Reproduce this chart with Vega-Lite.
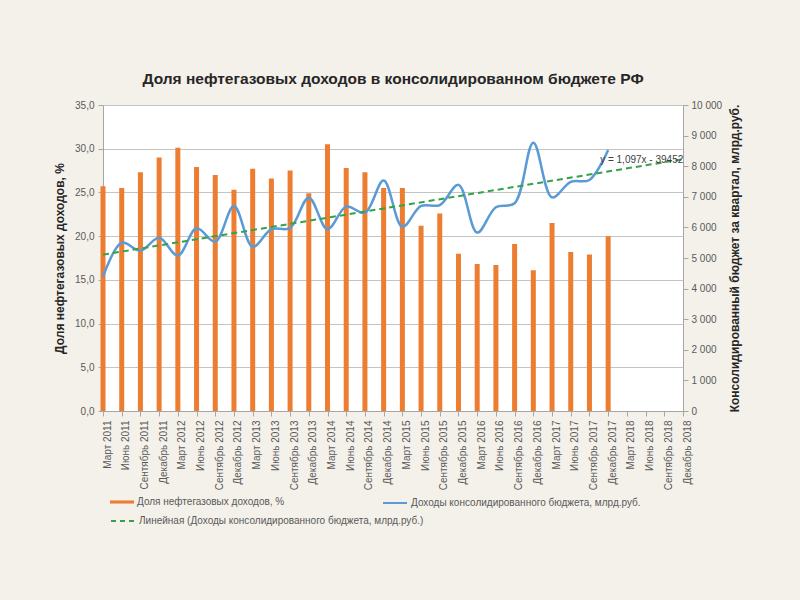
{
  "$schema": "https://vega.github.io/schema/vega-lite/v6.json",
  "width": 580,
  "height": 306,
  "autosize": {"type": "none"},
  "padding": {"left": 103, "top": 105, "right": 117, "bottom": 189},
  "background": "#f4f1ea",
  "title": {
    "text": "Доля нефтегазовых доходов  в консолидированном бюджете РФ",
    "font": "Liberation Sans Narrow, Liberation Sans, sans-serif",
    "fontSize": 15.5,
    "fontWeight": "bold",
    "color": "#262626",
    "anchor": "middle",
    "offset": 13
  },
  "data": {
    "values": [
      {"period": "Март 2011", "share": 25.7, "budget": 4390, "trend": 5110},
      {"period": "Июнь 2011", "share": 25.5, "budget": 5500},
      {"period": "Сентябрь 2011", "share": 27.3, "budget": 5240},
      {"period": "Декабрь 2011", "share": 29.0, "budget": 5665},
      {"period": "Март 2012", "share": 30.1, "budget": 5075},
      {"period": "Июнь 2012", "share": 27.9, "budget": 5970},
      {"period": "Сентябрь 2012", "share": 27.0, "budget": 5535},
      {"period": "Декабрь 2012", "share": 25.3, "budget": 6700},
      {"period": "Март 2013", "share": 27.7, "budget": 5370},
      {"period": "Июнь 2013", "share": 26.6, "budget": 5940},
      {"period": "Сентябрь 2013", "share": 27.5, "budget": 5980},
      {"period": "Декабрь 2013", "share": 24.9, "budget": 6970},
      {"period": "Март 2014", "share": 30.5, "budget": 5940},
      {"period": "Июнь 2014", "share": 27.8, "budget": 6680},
      {"period": "Сентябрь 2014", "share": 27.3, "budget": 6480},
      {"period": "Декабрь 2014", "share": 25.5, "budget": 7530},
      {"period": "Март 2015", "share": 25.5, "budget": 6020},
      {"period": "Июнь 2015", "share": 21.2, "budget": 6700},
      {"period": "Сентябрь 2015", "share": 22.6, "budget": 6730},
      {"period": "Декабрь 2015", "share": 18.0, "budget": 7390},
      {"period": "Март 2016", "share": 16.8, "budget": 5830},
      {"period": "Июнь 2016", "share": 16.7, "budget": 6660},
      {"period": "Сентябрь 2016", "share": 19.1, "budget": 6790},
      {"period": "Декабрь 2016", "share": 16.1, "budget": 8770},
      {"period": "Март 2017", "share": 21.5, "budget": 6980},
      {"period": "Июнь 2017", "share": 18.2, "budget": 7490},
      {"period": "Сентябрь 2017", "share": 17.9, "budget": 7550},
      {"period": "Декабрь 2017", "share": 20.0, "budget": 8530},
      {"period": "Март 2018"},
      {"period": "Июнь 2018"},
      {"period": "Сентябрь 2018"},
      {"period": "Декабрь 2018", "trend": 8230}
    ]
  },
  "encoding": {
    "x": {
      "field": "period",
      "type": "ordinal",
      "scale": {
        "type": "point",
        "padding": 0,
        "domain": ["Март 2011", "Июнь 2011", "Сентябрь 2011", "Декабрь 2011", "Март 2012", "Июнь 2012", "Сентябрь 2012", "Декабрь 2012", "Март 2013", "Июнь 2013", "Сентябрь 2013", "Декабрь 2013", "Март 2014", "Июнь 2014", "Сентябрь 2014", "Декабрь 2014", "Март 2015", "Июнь 2015", "Сентябрь 2015", "Декабрь 2015", "Март 2016", "Июнь 2016", "Сентябрь 2016", "Декабрь 2016", "Март 2017", "Июнь 2017", "Сентябрь 2017", "Декабрь 2017", "Март 2018", "Июнь 2018", "Сентябрь 2018", "Декабрь 2018"]
      },
      "axis": {
        "title": null,
        "labelAngle": 270,
        "labelAlign": "right",
        "labelBaseline": "middle",
        "labelOffset": 4,
        "labelPadding": 4,
        "labelFont": "Liberation Sans Narrow, Liberation Sans, sans-serif",
        "labelFontSize": 10,
        "labelColor": "#595959",
        "labelOverlap": false,
        "tickSize": 5,
        "tickColor": "#a6a6a6",
        "domainColor": "#a6a6a6",
        "grid": false
      }
    }
  },
  "layer": [
    {
      "mark": {"type": "bar", "width": 5},
      "encoding": {
        "y": {
          "field": "share",
          "type": "quantitative",
          "scale": {"domain": [0, 35], "nice": false},
          "axis": {
            "orient": "left",
            "values": [0, 5, 10, 15, 20, 25, 30, 35],
            "format": ".1f",
            "title": "Доля нефтегазовых доходов, %",
            "titleFont": "Liberation Sans, sans-serif",
            "titleFontSize": 12,
            "titleFontWeight": "bold",
            "titleColor": "#262626",
            "titlePadding": 8,
            "labelFont": "Liberation Sans Narrow, Liberation Sans, sans-serif",
            "labelFontSize": 10,
            "labelColor": "#595959",
            "labelPadding": 4,
            "labelOverlap": false,
            "tickSize": 5,
            "tickColor": "#a6a6a6",
            "domainColor": "#a6a6a6",
            "grid": true,
            "gridColor": "#c4c4c4"
          }
        },
        "color": {
          "datum": "Доля нефтегазовых доходов, %",
          "scale": {"range": ["#ed7d31"]},
          "legend": {
            "orient": "none",
            "legendX": 7,
            "legendY": 385,
            "title": null,
            "padding": 0,
            "symbolType": "M-1,-0.13H1V0.13H-1Z",
            "symbolSize": 576,
            "symbolStrokeWidth": 0,
            "labelFont": "Liberation Sans Narrow, Liberation Sans, sans-serif",
            "labelFontSize": 10,
            "labelColor": "#595959",
            "labelOffset": 3,
            "labelLimit": 400
          }
        }
      }
    },
    {
      "layer": [
        {
          "mark": {"type": "line", "interpolate": "catmull-rom", "strokeWidth": 2.5, "invalid": "filter"},
          "encoding": {
            "y": {
              "field": "budget",
              "type": "quantitative",
              "scale": {"domain": [0, 10000], "nice": false},
              "axis": {
                "orient": "right",
                "values": [0, 1000, 2000, 3000, 4000, 5000, 6000, 7000, 8000, 9000, 10000],
                "format": ",d",
                "title": "Консолидированный бюджет за квартал, млрд.руб.",
                "titleAngle": 270,
                "titleFont": "Liberation Sans, sans-serif",
                "titleFontSize": 12,
                "titleFontWeight": "bold",
                "titleColor": "#262626",
                "titlePadding": 20,
                "labelFont": "Liberation Sans Narrow, Liberation Sans, sans-serif",
                "labelFontSize": 10,
                "labelColor": "#595959",
                "labelPadding": 3,
                "labelOverlap": false,
                "tickSize": 5,
                "tickColor": "#a6a6a6",
                "domainColor": "#a6a6a6",
                "grid": false
              }
            },
            "color": {
              "datum": "Доходы консолидированного бюджета, млрд.руб.",
              "scale": {"range": ["#5b9bd5"]},
              "legend": {
                "orient": "none",
                "legendX": 279,
                "legendY": 385,
                "title": null,
                "padding": 0,
                "symbolType": "stroke",
                "symbolSize": 576,
                "symbolStrokeWidth": 2,
                "labelFont": "Liberation Sans Narrow, Liberation Sans, sans-serif",
                "labelFontSize": 10,
                "labelColor": "#595959",
                "labelOffset": 3,
                "labelLimit": 400
              }
            }
          }
        },
        {
          "mark": {"type": "line", "strokeDash": [6, 4], "strokeWidth": 2, "invalid": "filter"},
          "encoding": {
            "y": {
              "field": "trend",
              "type": "quantitative",
              "axis": {
                "orient": "right",
                "values": [0, 1000, 2000, 3000, 4000, 5000, 6000, 7000, 8000, 9000, 10000],
                "format": ",d",
                "title": "Консолидированный бюджет за квартал, млрд.руб.",
                "titleAngle": 270,
                "titleFont": "Liberation Sans, sans-serif",
                "titleFontSize": 12,
                "titleFontWeight": "bold",
                "titleColor": "#262626",
                "titlePadding": 20,
                "labelFont": "Liberation Sans Narrow, Liberation Sans, sans-serif",
                "labelFontSize": 10,
                "labelColor": "#595959",
                "labelPadding": 3,
                "labelOverlap": false,
                "tickSize": 5,
                "tickColor": "#a6a6a6",
                "domainColor": "#a6a6a6",
                "grid": false
              }
            },
            "color": {
              "datum": "Линейная (Доходы консолидированного бюджета, млрд.руб.)",
              "scale": {"range": ["#35a248"]},
              "legend": {
                "orient": "none",
                "legendX": 7,
                "legendY": 403,
                "title": null,
                "padding": 0,
                "symbolType": "stroke",
                "symbolSize": 576,
                "symbolStrokeWidth": 2,
                "symbolDash": [5, 4],
                "labelFont": "Liberation Sans Narrow, Liberation Sans, sans-serif",
                "labelFontSize": 10,
                "labelColor": "#595959",
                "labelOffset": 3,
                "labelLimit": 400
              }
            }
          }
        },
        {
          "data": {"values": [{"period": "Декабрь 2017", "value": 8200, "label": "y = 1,097x - 39452"}]},
          "mark": {
            "type": "text",
            "align": "left",
            "baseline": "middle",
            "dx": -8,
            "font": "Liberation Sans Narrow, Liberation Sans, sans-serif",
            "fontSize": 10,
            "color": "#404040"
          },
          "encoding": {
            "y": {
              "field": "value",
              "type": "quantitative",
              "axis": {
                "orient": "right",
                "values": [0, 1000, 2000, 3000, 4000, 5000, 6000, 7000, 8000, 9000, 10000],
                "format": ",d",
                "title": "Консолидированный бюджет за квартал, млрд.руб.",
                "titleAngle": 270,
                "titleFont": "Liberation Sans, sans-serif",
                "titleFontSize": 12,
                "titleFontWeight": "bold",
                "titleColor": "#262626",
                "titlePadding": 20,
                "labelFont": "Liberation Sans Narrow, Liberation Sans, sans-serif",
                "labelFontSize": 10,
                "labelColor": "#595959",
                "labelPadding": 3,
                "labelOverlap": false,
                "tickSize": 5,
                "tickColor": "#a6a6a6",
                "domainColor": "#a6a6a6",
                "grid": false
              }
            },
            "text": {"field": "label"}
          }
        }
      ],
      "resolve": {"scale": {"color": "independent"}}
    }
  ],
  "resolve": {"scale": {"y": "independent", "color": "independent"}},
  "config": {
    "locale": {"number": {"decimal": ",", "thousands": " ", "grouping": [3], "currency": ["", ""]}},
    "view": {"stroke": null, "fill": "white"}
  }
}
